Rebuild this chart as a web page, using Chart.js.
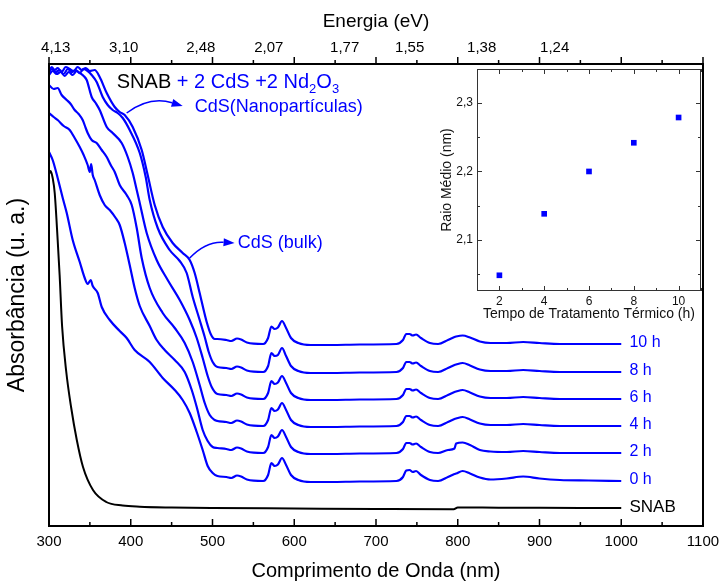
<!DOCTYPE html>
<html>
<head>
<meta charset="utf-8">
<script src="https://cdn.jsdelivr.net/npm/chart.js@4.4.0/dist/chart.umd.min.js"></script>
<style>
  html, body { margin: 0; padding: 0; background: #fff; }
  #wrap { position: relative; width: 722px; height: 583px; }
  #main { position: absolute; left: 0; top: 0; }
  #inset { position: absolute; left: 436px; top: 62px; }
</style>
</head>
<body>
<div id="wrap">
  <canvas id="main" width="722" height="583"></canvas>
  <canvas id="inset" width="276" height="263"></canvas>
</div>
<script>
// --- main spectra (wavelength in nm, absorbance in arbitrary units) ---
const flatNm = [506, 517, 523, 530, 535, 542, 562, 568, 572, 576, 580, 585, 590, 596, 605, 620, 645, 680, 725, 733, 737, 741, 745, 749, 755, 766, 776, 788, 796, 798, 806, 815, 827, 840, 860, 880, 900, 925, 960, 1000];

const edgeNm10 = [300, 303.3, 307, 310.6, 315.5, 320.4, 325.3, 330.2, 335.1, 340, 344.9, 349.8, 355.9, 362, 370.6, 380.4, 386.5, 392.6, 402.4, 413.4, 420.7, 429.3, 439.1, 451.3, 463.5, 472.1, 478.2, 484.3, 489.2, 492.9, 497.8, 502.7];
const edgeAbs10 = [45.5, 45.9, 45.6, 45.8, 45.4, 45.9, 45.7, 45.5, 45.9, 45.6, 45.8, 45.5, 45.6, 44.9, 43.3, 41.9, 41.4, 41.1, 39.9, 37.6, 35.1, 32.1, 29.9, 28.3, 27.3, 26.6, 25.3, 23.3, 21.6, 20.4, 19.2, 18.7];
const flatAbs10 = [18.7, 18.6, 18.5, 18.75, 18.65, 18.35, 18.2, 18.8, 19.95, 19.7, 19.85, 20.5, 19.8, 18.8, 18.3, 18.1, 18.1, 18.15, 18.2, 18.6, 19.2, 19.2, 19.05, 19.15, 18.8, 18.3, 18.2, 18.6, 18.9, 18.95, 19.05, 18.85, 18.45, 18.3, 18.3, 18.4, 18.3, 18.2, 18.2, 18.2];

const edgeNm8 = [300, 303.3, 308.2, 313.1, 318, 322.9, 327.8, 332.7, 337.6, 342.4, 347.3, 352.2, 358.3, 365.7, 371.8, 377.9, 384, 390.2, 398.7, 411, 418.3, 423.2, 433, 447.6, 459.9, 468.4, 475.8, 484.3, 490.5, 495.4, 500.2];
const edgeAbs8 = [45.3, 45.7, 45.4, 45.6, 45.2, 45.7, 45.4, 45.6, 45.3, 45.7, 45.5, 45.1, 44.4, 42.9, 42.1, 41.6, 41.3, 40.8, 39.6, 37.3, 34.9, 32.6, 29.8, 27.6, 26.5, 25.3, 22.9, 20.6, 18.9, 17.4, 16.4];
const flatAbs8 = [15.9, 15.8, 15.7, 15.95, 15.85, 15.55, 15.4, 16.0, 17.3, 17.0, 17.1, 17.8, 17.0, 16.0, 15.5, 15.3, 15.3, 15.35, 15.4, 15.8, 16.4, 16.4, 16.25, 16.35, 16.0, 15.5, 15.4, 15.8, 16.1, 16.15, 16.3, 16.05, 15.65, 15.5, 15.5, 15.6, 15.5, 15.4, 15.4, 15.4];

const edgeNm6 = [300, 304.5, 309.4, 314.3, 319.2, 324.1, 329, 333.9, 337.6, 342.4, 346.1, 352.2, 357.1, 362, 370.6, 377.9, 388.9, 396.3, 402.4, 407.3, 411, 419.5, 431.7, 445.2, 459.9, 472.1, 480.7, 488, 494.1, 499];
const edgeAbs6 = [45.1, 45.5, 45.2, 45.4, 45.0, 45.4, 45.1, 45.5, 45.3, 45.0, 44.6, 42.9, 42.3, 41.6, 39.9, 39.3, 38.3, 36.9, 35.3, 33.6, 32.3, 29.3, 26.6, 24.6, 22.6, 20.6, 18.8, 16.8, 15.0, 13.9];
const flatAbs6 = [13.2, 13.1, 13.0, 13.25, 13.15, 12.85, 12.7, 13.3, 14.5, 14.2, 14.35, 15.0, 14.3, 13.3, 12.8, 12.6, 12.6, 12.65, 12.7, 13.1, 13.7, 13.7, 13.55, 13.65, 13.3, 12.8, 12.7, 13.1, 13.4, 13.45, 13.6, 13.35, 12.95, 12.8, 12.8, 12.9, 12.8, 12.7, 12.7, 12.7];

const edgeNm4 = [300, 305.7, 310.6, 315.5, 321.7, 326.5, 331.4, 336.3, 341.2, 344.9, 347.3, 352.2, 358.3, 364.5, 370.6, 375.5, 380.4, 386.5, 395, 401.2, 407.3, 413.4, 423.2, 439.1, 453.8, 466, 475.8, 484.3, 490.5, 496.6, 502.7];
const edgeAbs4 = [44.1, 43.7, 43.8, 43.1, 42.6, 42.2, 41.6, 41.2, 40.6, 39.8, 39.3, 38.6, 38.3, 37.6, 36.9, 36.1, 35.4, 34.1, 33.1, 32.1, 29.8, 26.8, 23.8, 21.3, 19.8, 18.3, 16.4, 14.1, 12.3, 11.1, 10.6];
const flatAbs4 = [10.5, 10.4, 10.3, 10.55, 10.45, 10.15, 10.0, 10.6, 11.8, 11.5, 11.65, 12.3, 11.6, 10.6, 10.1, 9.9, 9.9, 9.95, 10.0, 10.4, 11.0, 11.0, 10.85, 10.95, 10.6, 10.1, 10.0, 10.4, 10.7, 10.75, 10.9, 10.65, 10.25, 10.1, 10.1, 10.2, 10.1, 10.0, 10.0, 10.0];

const edgeNm2 = [300, 305.7, 310.6, 318, 325.3, 331.4, 337.6, 342.4, 347.3, 349.8, 351.6, 353.5, 355.9, 362, 368.1, 374.3, 381.6, 386.5, 392.6, 398.7, 404.8, 411, 423.2, 431.7, 441.5, 453.8, 466, 474.6, 480.7, 488, 494.1, 500.2];
const edgeAbs2 = [41.3, 40.9, 40.6, 40.0, 39.6, 38.8, 37.9, 37.1, 36.1, 35.4, 36.2, 35.1, 34.6, 33.1, 32.1, 31.6, 30.8, 30.1, 28.3, 26.1, 23.8, 22.0, 20.0, 18.6, 17.6, 16.6, 15.4, 13.6, 11.9, 9.6, 8.5, 7.9];
const flatAbs2 = [7.8, 7.7, 7.6, 7.85, 7.75, 7.45, 7.3, 7.9, 9.1, 8.8, 8.95, 9.6, 8.9, 7.9, 7.4, 7.2, 7.2, 7.25, 7.3, 7.7, 8.3, 8.3, 8.15, 8.25, 7.9, 7.4, 7.3, 7.6, 7.75, 8.25, 8.35, 8.1, 7.6, 7.45, 7.4, 7.5, 7.4, 7.3, 7.3, 7.3];

const edgeNm0 = [300, 304.5, 310.6, 316.8, 321.7, 329, 337.6, 343.7, 347.3, 351, 353.5, 359.6, 364.5, 374.3, 386.5, 395, 404.8, 423.2, 439.1, 453.8, 463.5, 472.1, 480.7, 488, 494.1, 500.2];
const edgeAbs0 = [37.4, 36.6, 34.8, 32.8, 31.3, 28.6, 26.4, 24.8, 24.2, 24.6, 24.0, 23.3, 21.9, 20.6, 19.5, 18.8, 17.6, 16.4, 14.8, 13.6, 12.6, 11.3, 9.4, 7.6, 6.0, 5.3];
const flatAbs0 = [5.0, 4.9, 4.8, 5.05, 4.95, 4.65, 4.5, 5.1, 6.3, 6.0, 6.15, 6.8, 6.1, 5.1, 4.6, 4.4, 4.4, 4.45, 4.5, 4.9, 5.55, 5.6, 5.4, 5.5, 5.1, 4.6, 4.5, 4.9, 5.2, 5.25, 5.5, 5.25, 4.85, 4.65, 4.75, 4.95, 4.75, 4.6, 4.55, 4.5];

const snabNm = [300, 302, 304.5, 307, 310.6, 313, 316, 321, 327, 334, 341.6, 353.8, 370, 390, 411, 450, 500, 600, 700, 795, 800, 850, 900, 1000];
const snabAbs = [35.2, 35.5, 34.8, 33.3, 28.6, 25.1, 20.0, 15.5, 11.9, 8.6, 5.9, 3.6, 2.4, 2.05, 1.93, 1.85, 1.8, 1.75, 1.7, 1.67, 1.85, 1.83, 1.82, 1.8];

// top axis (energy) tick labels and where they sit on the nm scale
const energyLabels = ['4,13', '3,10', '2,48', '2,07', '1,77', '1,55', '1,38', '1,24'];
const energyPos = [308.2, 391.4, 485.6, 568.8, 661.7, 741.2, 829.3, 918.6];

// --- inset: mean radius vs annealing time ---
const insetHours = [2, 4, 6, 8, 10];
const insetRadius = [2.048, 2.138, 2.200, 2.242, 2.279];
const insetXTicks = [2, 4, 6, 8, 10];
const insetYTicks = [2.1, 2.2, 2.3];

const BLUE = '#0000ff';
const FONT = "'Liberation Sans', Arial, sans-serif";
Chart.defaults.font.family = FONT;
Chart.defaults.color = '#000';

const toPoints = (nm, abs) => nm.map((w, i) => ({ x: w, y: abs[i] }));

function spectrum(tag, edgeNm, edgeAbs, flatAbs) {
    return {
        tag: tag,
        data: toPoints(edgeNm.concat(flatNm), edgeAbs.concat(flatAbs)),
        borderColor: BLUE,
        borderWidth: 2.2,
        pointRadius: 0,
        fill: false,
        cubicInterpolationMode: 'monotone'
    };
}

const datasets = [
    {
        tag: 'SNAB', tagColor: '#000', tagSize: 17,
        data: toPoints(snabNm, snabAbs),
        borderColor: '#000', borderWidth: 2, pointRadius: 0, fill: false,
        cubicInterpolationMode: 'monotone'
    },
    spectrum('0 h', edgeNm0, edgeAbs0, flatAbs0),
    spectrum('2 h', edgeNm2, edgeAbs2, flatAbs2),
    spectrum('4 h', edgeNm4, edgeAbs4, flatAbs4),
    spectrum('6 h', edgeNm6, edgeAbs6, flatAbs6),
    spectrum('8 h', edgeNm8, edgeAbs8, flatAbs8),
    spectrum('10 h', edgeNm10, edgeAbs10, flatAbs10)
];

// frame + Origin style tick marks (inward at the bottom, outward at the top)
const frameTicks = {
    id: 'frameTicks',
    afterDatasetsDraw(chart) {
        const { ctx, chartArea: a, scales: { x } } = chart;
        ctx.save();
        ctx.strokeStyle = '#000';
        ctx.lineWidth = 2;
        ctx.strokeRect(a.left, a.top, a.right - a.left, a.bottom - a.top);
        ctx.lineWidth = 1.5;
        ctx.beginPath();
        for (let v = 300; v <= 1100; v += 50) {
            const px = x.getPixelForValue(v);
            const len = v % 100 === 0 ? 7 : 4;
            ctx.moveTo(px, a.bottom);
            ctx.lineTo(px, a.bottom - len);
            ctx.moveTo(px, a.top);
            ctx.lineTo(px, a.top - len);
        }
        ctx.stroke();
        ctx.restore();
    }
};

function arrow(ctx, x, y, p0, p1, p2) {
    const sx = x.getPixelForValue(p0[0]), sy = y.getPixelForValue(p0[1]);
    const cx = x.getPixelForValue(p1[0]), cy = y.getPixelForValue(p1[1]);
    const ex = x.getPixelForValue(p2[0]), ey = y.getPixelForValue(p2[1]);
    const ang = Math.atan2(ey - cy, ex - cx);
    const head = 11;
    const bx = ex - head * Math.cos(ang), by = ey - head * Math.sin(ang);
    ctx.beginPath();
    ctx.moveTo(sx, sy);
    ctx.quadraticCurveTo(cx, cy, bx, by);
    ctx.stroke();
    ctx.beginPath();
    ctx.moveTo(ex, ey);
    ctx.lineTo(bx - 4 * Math.sin(ang), by + 4 * Math.cos(ang));
    ctx.lineTo(bx + 4 * Math.sin(ang), by - 4 * Math.cos(ang));
    ctx.closePath();
    ctx.fill();
}

const annotations = {
    id: 'annotations',
    afterDatasetsDraw(chart) {
        const { ctx, scales: { x, y } } = chart;
        ctx.save();
        ctx.textBaseline = 'middle';
        ctx.textAlign = 'left';

        // curve names at the right end of every spectrum
        chart.data.datasets.forEach(ds => {
            const last = ds.data[ds.data.length - 1];
            ctx.font = (ds.tagSize || 16) + 'px ' + FONT;
            ctx.fillStyle = ds.tagColor || BLUE;
            ctx.fillText(ds.tag, x.getPixelForValue(1010), y.getPixelForValue(last.y) - 1);
        });

        // sample composition with subscripts
        let tx = x.getPixelForValue(382.9);
        const ty = y.getPixelForValue(44.4);
        const parts = [
            { t: 'SNAB', c: '#000' },
            { t: ' + 2 CdS +2 Nd', c: BLUE },
            { t: '2', c: BLUE, sub: true },
            { t: 'O', c: BLUE },
            { t: '3', c: BLUE, sub: true }
        ];
        parts.forEach(p => {
            ctx.font = (p.sub ? 13 : 20) + 'px ' + FONT;
            ctx.fillStyle = p.c;
            ctx.fillText(p.t, tx, ty + (p.sub ? 7 : 0));
            tx += ctx.measureText(p.t).width;
        });

        ctx.font = '18px ' + FONT;
        ctx.fillStyle = BLUE;
        ctx.fillText('CdS(Nanopartículas)', x.getPixelForValue(478.2), y.getPixelForValue(41.9));
        ctx.fillText('CdS (bulk)', x.getPixelForValue(530.8), y.getPixelForValue(28.3));

        ctx.strokeStyle = BLUE;
        ctx.lineWidth = 1.5;
        arrow(ctx, x, y, [395, 41.3], [423, 43.0], [463.5, 42.0]);
        arrow(ctx, x, y, [472.1, 26.8], [492, 28.5], [527, 28.3]);
        ctx.restore();
    }
};

const noGrid = { display: false, drawTicks: false, tickLength: 0 };

new Chart(document.getElementById('main'), {
    type: 'line',
    data: { datasets: datasets },
    options: {
        responsive: false,
        animation: false,
        events: [],
        layout: { padding: { left: 0, right: 19, top: 0, bottom: 0 } },
        plugins: { legend: { display: false }, tooltip: { enabled: false } },
        scales: {
            x: {
                type: 'linear', position: 'bottom', min: 300, max: 1100,
                grid: noGrid, border: { display: false },
                ticks: { stepSize: 100, padding: 7, maxRotation: 0, autoSkip: false,
                         font: { size: 15 }, callback: v => String(v) },
                title: { display: true, text: 'Comprimento de Onda (nm)', font: { size: 20 },
                         padding: { top: 0, bottom: 0 } },
                afterFit(s) { s.height = 57; s.paddingLeft = 0; s.paddingRight = 0; }
            },
            xTop: {
                type: 'linear', position: 'top', min: 300, max: 1100,
                grid: noGrid, border: { display: false },
                afterBuildTicks(s) { s.ticks = energyPos.map(v => ({ value: v })); },
                ticks: { padding: 7, maxRotation: 0, autoSkip: false, font: { size: 15 },
                         callback: (v, i) => energyLabels[i] },
                title: { display: true, text: 'Energia (eV)', font: { size: 19 },
                         padding: { top: 10, bottom: 0 } },
                afterFit(s) { s.height = 64; s.paddingLeft = 0; s.paddingRight = 0; }
            },
            y: {
                type: 'linear', min: 0, max: 46.2,
                grid: noGrid, border: { display: false },
                ticks: { display: false },
                title: { display: true, text: 'Absorbância (u. a.)', font: { size: 23 },
                         padding: { top: 4, bottom: 0 } },
                afterFit(s) { s.width = 49; }
            }
        }
    },
    plugins: [frameTicks, annotations]
});

// inset frame with inward ticks on all four sides
const insetFrame = {
    id: 'insetFrame',
    afterDatasetsDraw(chart) {
        const { ctx, chartArea: a, scales: { x, y } } = chart;
        ctx.save();
        ctx.strokeStyle = '#333';
        ctx.lineWidth = 1;
        ctx.strokeRect(a.left + 0.5, a.top + 0.5, a.right - a.left - 1, a.bottom - a.top - 1);
        ctx.beginPath();
        for (let h = 1; h <= 11; h++) {
            const px = Math.round(x.getPixelForValue(h)) + 0.5;
            const len = h % 2 === 0 ? 5 : 3;
            ctx.moveTo(px, a.bottom); ctx.lineTo(px, a.bottom - len);
            ctx.moveTo(px, a.top); ctx.lineTo(px, a.top + len);
        }
        for (let k = 1; k <= 6; k++) {
            const v = 2.0 + k * 0.05;
            const py = Math.round(y.getPixelForValue(v)) + 0.5;
            const len = k % 2 === 0 ? 5 : 3;
            ctx.moveTo(a.left, py); ctx.lineTo(a.left + len, py);
            ctx.moveTo(a.right, py); ctx.lineTo(a.right - len, py);
        }
        ctx.stroke();
        ctx.restore();
    }
};

new Chart(document.getElementById('inset'), {
    type: 'scatter',
    data: {
        datasets: [{
            data: insetHours.map((h, i) => ({ x: h, y: insetRadius[i] })),
            pointStyle: 'rect', pointRadius: 4, borderWidth: 0,
            backgroundColor: BLUE, borderColor: BLUE
        }]
    },
    options: {
        responsive: false,
        animation: false,
        events: [],
        layout: { padding: { left: 0, right: 11, top: 7, bottom: 0 } },
        plugins: { legend: { display: false }, tooltip: { enabled: false } },
        scales: {
            x: {
                type: 'linear', min: 1, max: 11,
                grid: noGrid, border: { display: false },
                afterBuildTicks(s) { s.ticks = insetXTicks.map(v => ({ value: v })); },
                ticks: { padding: 3, maxRotation: 0, autoSkip: false, font: { size: 12 }, color: '#111',
                         callback: v => String(v) },
                title: { display: true, text: 'Tempo de Tratamento Térmico (h)', font: { size: 14 },
                         color: '#111', padding: { top: 0, bottom: 2 } },
                afterFit(s) { s.height = 34; s.paddingLeft = 0; s.paddingRight = 0; }
            },
            y: {
                type: 'linear', min: 2.025, max: 2.35,
                grid: noGrid, border: { display: false },
                afterBuildTicks(s) { s.ticks = insetYTicks.map(v => ({ value: v })); },
                ticks: { padding: 4, font: { size: 12 }, color: '#111',
                         callback: v => v.toFixed(1).replace('.', ',') },
                title: { display: true, text: 'Raio Médio (nm)', font: { size: 14 },
                         color: '#111', padding: { top: 3, bottom: 0 } },
                afterFit(s) { s.width = 41; s.paddingTop = 0; s.paddingBottom = 0; }
            }
        }
    },
    plugins: [insetFrame]
});
</script>
</body>
</html>
